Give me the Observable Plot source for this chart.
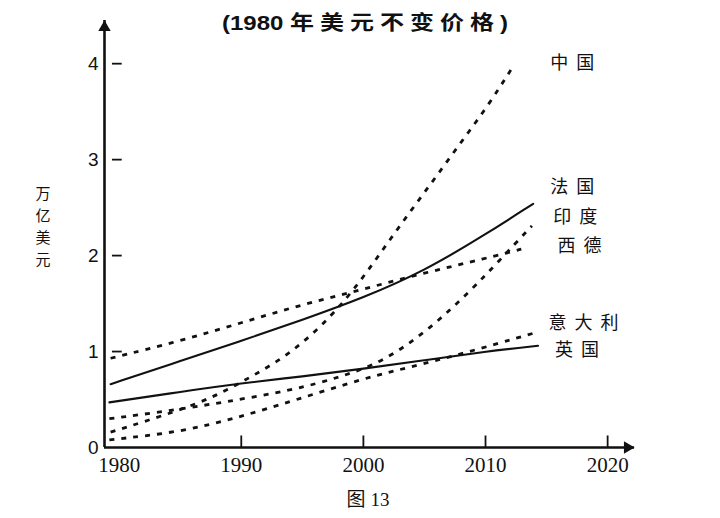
<!DOCTYPE html>
<html>
<head>
<meta charset="utf-8">
<script src="https://cdn.jsdelivr.net/npm/d3@7"></script>
<script src="https://cdn.jsdelivr.net/npm/@observablehq/plot@0.6"></script>
<style>
  body { margin: 0; background: #fff; }
  #wrap { position: relative; width: 720px; height: 518px; overflow: hidden; background: #fff; }
  #wrap svg { position: absolute; left: 0; top: 0; }
  #title { position: absolute; top: 7px; left: 222px; white-space: nowrap; color: #111;
           transform: scaleX(1.2); transform-origin: 0 0;
           font-family: "Liberation Sans", "Noto Sans CJK SC", sans-serif; font-size: 20px; font-weight: bold; }
  #title .cjk { font-family: "Noto Sans CJK SC", sans-serif; letter-spacing: 5px; }
  #ylab { position: absolute; left: 34px; top: 182px; width: 18px; color: #111;
          font-family: "Noto Sans CJK SC", sans-serif; font-size: 15px; line-height: 22px; text-align: center; }
  #caption { position: absolute; left: 268px; width: 200px; top: 484px; text-align: center; color: #111;
             font-family: "Liberation Serif", "Noto Sans CJK SC", serif; font-size: 19px; }
</style>
</head>
<body>
<div id="wrap">
  <div id="title">(1980 <span class="cjk">年美元不变价格</span>)</div>
  <div id="ylab">万<br>亿<br>美<br>元</div>
  <div id="caption"><span style="font-family:'Noto Sans CJK SC'">图</span> 13</div>
</div>
<script>
// ---- data: [year, value in 万亿美元 (1980 constant USD)] ----
const china   = [[1979.3,0.16],[1984.8,0.38],[1988,0.54],[1991,0.75],[1994.2,0.99],[1997.5,1.38],[1999.8,1.74],[2001.8,2.10],[2003.9,2.47],[2006,2.83],[2008.1,3.20],[2010.2,3.56],[2012.2,3.96]];
const france  = [[1979.3,0.66],[1985,0.90],[1990,1.11],[1995,1.33],[2000,1.56],[2005,1.84],[2010,2.22],[2013.9,2.54]];
const india   = [[1979.2,0.30],[1984,0.38],[1988.5,0.47],[1994.3,0.60],[1998,0.73],[2001.6,0.89],[2005.5,1.24],[2008.9,1.65],[2011,1.93],[2013.8,2.31]];
const wgermany= [[1979.3,0.93],[1985,1.11],[1990,1.30],[1995,1.49],[2000,1.65],[2005,1.82],[2010,1.97],[2013.3,2.08]];
const italy   = [[1979.2,0.08],[1985,0.16],[1989.7,0.31],[1994.3,0.49],[2000.3,0.73],[2003.6,0.83],[2008.2,0.98],[2013.9,1.19]];
const uk      = [[1979.2,0.47],[1985,0.58],[1990,0.67],[1995,0.74],[2000,0.82],[2005,0.91],[2010,1.00],[2014.3,1.06]];

const seriesNames  = ["中国", "法国", "印度", "西德", "意大利", "英国"];
const seriesPoints = [china, france, india, wgermany, italy, uk];
const seriesSolid  = [false, true, false, false, false, true];

// series labels at the right (label year, label value)
const labelNames  = ["中国", "法国", "印度", "西德", "意大利", "英国"];
const labelYears  = [2015.3, 2015.3, 2015.55, 2015.9, 2015.15, 2015.7];
const labelValues = [4.00, 2.71, 2.40, 2.10, 1.29, 1.01];

const xTicks = [1980, 1990, 2000, 2010, 2020];
const yTicks = [0, 1, 2, 3, 4];
const xDomain = [1978.8, 2022.2];
const yDomain = [0, 4.45];

// ---- build tables ----
const rows = [];
seriesNames.forEach((name, i) => {
  seriesPoints[i].forEach(([year, value]) => rows.push({name, year, value, solid: seriesSolid[i]}));
});
const labels = labelNames.map((name, i) => ({name, year: labelYears[i], value: labelValues[i]}));

const chart = Plot.plot({
  width: 720,
  height: 518,
  marginLeft: 104,
  marginRight: 86,
  marginTop: 20,
  marginBottom: 71,
  x: {domain: xDomain},
  y: {domain: yDomain},
  style: {background: "transparent", color: "#111"},
  marks: [
    Plot.axisX({ticks: xTicks, tickSize: 0, tickPadding: 10, tickFormat: d => String(d), label: null,
                fontSize: 21, fontFamily: "Liberation Serif"}),
    Plot.axisY({ticks: yTicks, tickSize: 0, tickPadding: 6, tickFormat: d => String(d), label: null,
                fontSize: 19, fontFamily: "Liberation Sans"}),
    // tick marks
    Plot.ruleY(yTicks.filter(d => d > 0), {y: d => d, x1: 1979.45, x2: 1980.25, stroke: "#111", strokeWidth: 1.8}),
    Plot.ruleX(xTicks.filter(d => d > 1980), {x: d => d, y1: 0, y2: 0.12, stroke: "#111", strokeWidth: 1.8}),
    // axis lines with arrows
    Plot.ruleX([xDomain[0]], {y1: 0, y2: yDomain[1], stroke: "#111", strokeWidth: 2.6}),
    Plot.ruleY([0], {x1: xDomain[0], x2: xDomain[1], stroke: "#111", strokeWidth: 2.4}),
    Plot.dot([{x: xDomain[0], y: yDomain[1]}], {x: "x", y: "y", symbol: "triangle", r: 4.6, fill: "#111", stroke: "none", dy: 7}),
    Plot.dot([{x: xDomain[1], y: 0}], {x: "x", y: "y", symbol: "triangle", r: 4.6, fill: "#111", stroke: "none", rotate: 90, dx: -7}),
    // series
    Plot.line(rows.filter(d => d.solid), {x: "year", y: "value", z: "name", curve: "basis",
      stroke: "#111", strokeWidth: 2.1}),
    Plot.line(rows.filter(d => !d.solid), {x: "year", y: "value", z: "name", curve: "basis",
      stroke: "#111", strokeWidth: 2.8, strokeDasharray: "5,7", strokeLinecap: "butt"}),
    // labels
    Plot.text(labels, {x: "year", y: "value", text: "name", textAnchor: "start",
      fontSize: 18, fontFamily: "Noto Sans CJK SC", fill: "#111"})
  ]
});

d3.select(chart).selectAll("g[aria-label='text'] text").style("letter-spacing", "8px");
document.getElementById("wrap").prepend(chart);
</script>
</body>
</html>
